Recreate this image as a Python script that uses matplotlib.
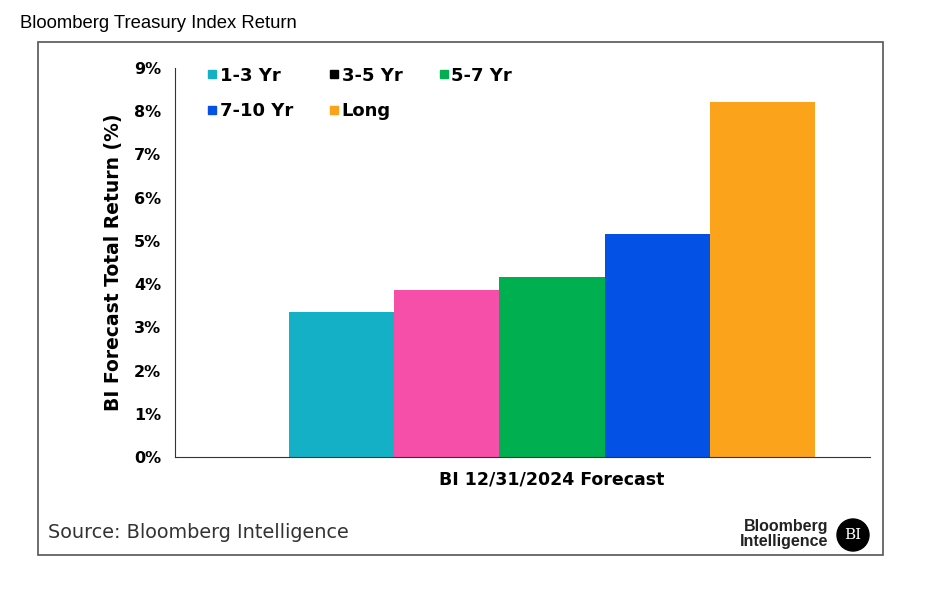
import matplotlib.pyplot as plt
from matplotlib.lines import Line2D
from matplotlib.patches import Rectangle, Ellipse

categories = ["1-3 Yr", "3-5 Yr", "5-7 Yr", "7-10 Yr", "Long"]
returns = [3.36, 3.87, 4.17, 5.16, 8.22]
bar_colors = ["#14b1c6", "#f54fa9", "#00b050", "#0451e5", "#fca31c"]
legend_colors = ["#14b1c6", "#000000", "#00b050", "#0451e5", "#fca31c"]
yticks = list(range(0, 10))
group_label = "BI 12/31/2024 Forecast"

W, H = 937, 591
fig = plt.figure(figsize=(W / 100, H / 100), dpi=100)
plt.rcParams['font.family'] = 'DejaVu Sans'

# outer frame
fig.patches.append(Rectangle((38 / W, 1 - 555 / H), (883 - 38) / W, (555 - 42) / H,
                             transform=fig.transFigure, fill=False, ec="#555555", lw=1.2))

ax = fig.add_axes([175 / W, 1 - 457 / H, (870 - 175) / W, (457 - 68) / H])
x = list(range(len(categories)))
ax.bar(x, returns, width=1.0, color=bar_colors)
ax.set_xlim(-1.584, 5.023)
ax.set_ylim(0, 9)
ax.set_yticks(yticks)
ax.set_yticklabels([f"{v}%" for v in yticks], fontweight="bold", fontsize=11.5)
ax.set_xticks([2])
ax.set_xticklabels([group_label], fontweight="bold", fontsize=12.5)
ax.tick_params(length=0, pad=10)
ax.tick_params(axis="x", pad=10)
for s in ["top", "right"]:
    ax.spines[s].set_visible(False)
for s in ["left", "bottom"]:
    ax.spines[s].set_color("#333333")
ax.set_ylabel("BI Forecast Total Return (%)", fontweight="bold", fontsize=13.5, labelpad=8)

# legend fills column-first, so reorder to read row by row
order = [0, 3, 1, 4, 2]
handles = [Line2D([], [], ls="none", marker="s", markersize=6, color=legend_colors[i]) for i in order]
labels = [categories[i] for i in order]
leg = ax.legend(handles, labels, ncol=3, loc="upper left", bbox_to_anchor=(0.024, 1.045),
                frameon=False, prop={"weight": "bold", "size": 13},
                handlelength=0.5, handletextpad=0.15, columnspacing=2.05, labelspacing=0.95)

fig.text(20 / W, 1 - 23 / H, "Bloomberg Treasury Index Return", family="Liberation Sans",
         fontsize=13.3, va="center", ha="left")
fig.text(48 / W, 1 - 533 / H, "Source: Bloomberg Intelligence", fontsize=13.9,
         color="#333333", va="center", ha="left")
fig.text(828 / W, 1 - 534 / H, "Bloomberg\nIntelligence", fontsize=11.5, ha="right",
         va="center", color="#222222", linespacing=1.0, family="Liberation Sans",
         fontweight="semibold")
fig.patches.append(Ellipse((853 / W, 1 - 535 / H), 32 / W, 32 / H, transform=fig.transFigure,
                           color="black"))
fig.text(853 / W, 1 - 535 / H, "BI", color="white", fontsize=11, ha="center", va="center",
         family="DejaVu Serif")

fig.savefig("out.png", dpi=100)
